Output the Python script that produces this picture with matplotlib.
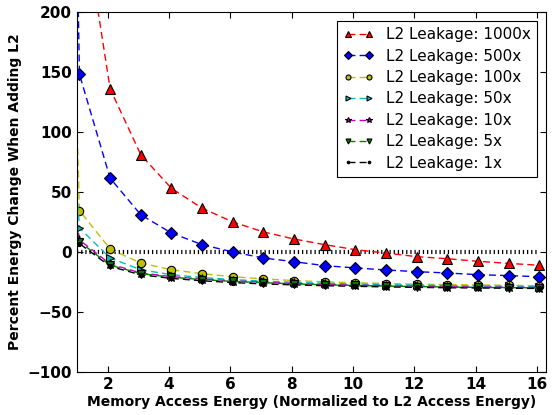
import numpy as np
import matplotlib
matplotlib.use('Agg')
import matplotlib.pyplot as plt

# memory access energy where markers sit (slightly right of the integer ticks in the original)
mem_energy = [1.08 + k for k in range(16)]

# percent energy change when adding L2
leak_1000x = [300, 136, 81, 53, 36.5, 25, 16.7, 10.8, 6.1, 1.9, -0.9, -3.9, -5.6, -7.8, -9.5, -11.1]
leak_500x = [148, 61.5, 31, 15.8, 6.1, 0, -5, -8.1, -11.4, -13.3, -15, -16.4, -17.5, -18.9, -19.7, -20.6]
leak_100x = [34.5, 2.5, -9.2, -14.8, -18.1, -20.6, -22.4, -23.8, -24.9, -25.7, -26.3, -26.8, -27.2, -27.5, -27.8, -28.1]
leak_50x = [20, -5, -14.8, -18.9, -21.3, -23.0, -24.3, -25.3, -26.1, -26.7, -27.2, -27.6, -28.0, -28.3, -28.6, -28.9]
leak_10x = [10, -10, -17.5, -20.5, -22.5, -24, -25.2, -26.2, -27, -27.6, -28.1, -28.5, -28.9, -29.2, -29.4, -29.6]
leak_5x = [8.5, -11, -18, -21, -23, -24.5, -25.6, -26.6, -27.3, -27.9, -28.4, -28.8, -29.2, -29.5, -29.7, -29.9]
leak_1x = [7, -12, -19, -22, -24, -25.5, -26.6, -27.4, -28.1, -28.6, -29.1, -29.5, -29.8, -30.0, -30.2, -30.4]

# where each dashed curve starts at the left edge (x = 1.0)
line_start_x = 1.0
line_start = [400, 260, 105, 50, 25, 20, 15]

labels = ['L2 Leakage: 1000x', 'L2 Leakage: 500x', 'L2 Leakage: 100x',
          'L2 Leakage: 50x', 'L2 Leakage: 10x', 'L2 Leakage: 5x', 'L2 Leakage: 1x']
series = [leak_1000x, leak_500x, leak_100x, leak_50x, leak_10x, leak_5x, leak_1x]

colors = ['r', 'b', 'y', 'c', 'm', 'g', 'k']
markers = ['^', 'D', 'o', '>', '*', 'v', '.']
msizes = [6.5, 6.5, 6, 6, 6.5, 6, 6]

fig = plt.figure(figsize=(5.52, 4.15), dpi=100)
ax = fig.add_axes([0.1395, 0.1036, 0.850, 0.8676])

for vals, start, lab, c, m, ms in zip(series, line_start, labels, colors, markers, msizes):
    xs = [line_start_x] + mem_energy
    ys = [start] + vals
    ax.plot(xs, ys, color=c, linestyle='--', dashes=(5, 3), linewidth=1,
            marker=m, markersize=ms, markerfacecolor=c, markeredgecolor='k',
            markeredgewidth=0.8, markevery=list(range(1, len(xs))), label=lab)

# zero reference
ax.plot([line_start_x, mem_energy[-1]], [0, 0], color='k', linewidth=3,
        linestyle=(0, (0.3, 0.7)), zorder=1)

ax.set_xlim(1, 16.3)
ax.set_ylim(-100, 200)
ax.set_xticks(range(2, 17, 2))
ax.set_yticks(range(-100, 201, 50))
ax.tick_params(direction='in', top=True, right=True, length=4, width=0.8, labelsize=11)
for t in ax.get_xticklabels() + ax.get_yticklabels():
    t.set_fontweight('bold')

ax.set_xlabel('Memory Access Energy (Normalized to L2 Access Energy)', fontsize=10,
              fontweight='bold', labelpad=2)
ax.set_ylabel('Percent Energy Change When Adding L2', fontsize=10, fontweight='bold')

leg = ax.legend(loc='upper right', numpoints=2, fontsize=11, fancybox=False,
                framealpha=1, edgecolor='k', borderaxespad=0.6, handlelength=2.0,
                labelspacing=0.42, markerscale=0.6)
leg.get_frame().set_linewidth(0.8)

fig.savefig('out.png', dpi=100)
